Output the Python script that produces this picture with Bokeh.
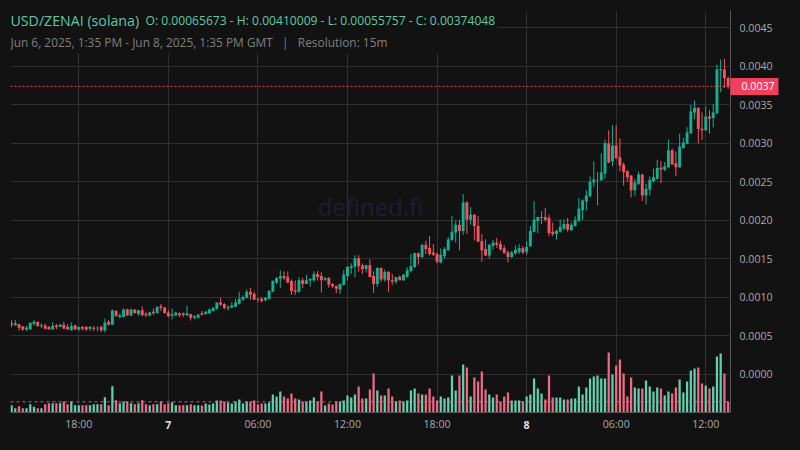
from bokeh.embed import file_html
from bokeh.models import (BoxAnnotation, FixedTicker, Label, LinearAxis, NumeralTickFormatter,
                          Range1d, Span)
from bokeh.plotting import figure
from bokeh.resources import INLINE

# ---- data (prices in units of 0.00001, 15 minute candles) ----
PRICE_UNIT = 1e-5
open_ = [66,63.5,65,62,58,58,65,68,62,63,
 61,58,63,61,64,61,57,63.5,58,61,
 61,59,60,59.5,61,56.5,68,64,82,74,
 74,84,76,84,78,83,78,76,81,79,
 88,86.5,80,76,76,79,79,76,78,73,73,
 79,78,79,82,85,93,91,85.5,86,87.5,
 91.5,97,99,107,104,98,98,96,98,107,
 119,124,127.5,126,121,109,107,122,117,121.5,
 122,130,127.5,122.5,125,117,114.5,110,116,127.5,
 138,139.5,150.5,141,136.5,141.5,127.5,117,138,123,
 133,122,120,126.5,122,126.5,134,139,157,152,
 168,164,158,156,145,153.5,161,174,184,194,
 186,223,200.5,207,192.5,173,162.5,154,166.5,171,
 169,163.5,158,152,157,159,163.5,159,166,185,
 199,203,204,203,185,182,185,189,195,187,
 192.5,199,213,224,231,249,252,252,260.5,300,
 276.5,297,282,272.5,263.5,258,239,247.5,259.5,232,
 240,251,254,268.5,265.5,269,291,274,269,294,
 299.5,313,340,346,319,317,335,333,339,395,396,385]
high = [70,70,65,62,62.5,67,70,68,66,65.5,
 62.5,67,65,65,68,65,67,64,62,62.5,
 62.5,62.5,62.5,62,63,72,70,84,83,79,
 85,85,85,84,83,88,81,81,85,88,
 91,87,83,85,81,80,80,89,78,76.5,78,
 82,82,85,87,93,99,92,89,93.5,97.5,
 107,102.5,110,112,107,99,100,100,109,122,
 126,135,133.5,133.5,123,122,126,125,129,124.5,
 133.5,134,132.5,126,126,118,115,117.5,135,140.5,
 144,154.5,154.5,144,142,149,133.5,138.5,138.5,136,
 133.5,130,126,128,130,139,156,158,158,168.5,
 173.5,179.5,169,158,163.5,165,178,205.5,199.5,200.5,
 234,225,217,208,205.5,182,175,169,174,177,
 173.5,167.5,160.5,160,167.5,169,166.5,173,192.5,225,
 204.5,211.5,216,207,197,188,201,201,203,197,
 205,229,227,239,257,276.5,262.5,287,305,317,
 323.5,323.5,306.5,275,265,258.5,254,263.5,260,247.5,
 257,267,278.5,277,275.5,305,293,289.5,312.5,307,
 321,350,355.5,347,340,348,343,351.5,402.5,409,410,387]
low = [61,63,56.5,56,56,58,63,62,60,58,
 58,58,58,61,59,58,56.5,58,56,57,
 56,56,56,55.5,55,54,63,64,75,72,
 74,76,75,79,76,75.5,74,75,77,79,
 82,79,74,71,75,74,74,76,69.5,71,72,
 76,77,78,81,83,89,84,82.5,86,87,
 90.5,95,98,96.5,96,93,93,94.5,97,107,
 117,112,122,118,103,103,106,112,117,114,
 120,121.5,106,121,112,112,105,104,115,121.5,
 130,126,133,130,132,126,105.5,113,120,120,
 107,116,117,122,121,125,132,138,142,151,
 156,154,153.5,144,144,150,160,173.5,171,161,
 181,182,194,174,172,146,153.5,150,162,164,
 160.5,157,145,151,155,156,156,155,165,184,
 183,195,198.5,179,179,175,184,187,185,186,
 192,198,200.5,212.5,230,243,219,251,254,274,
 270,280,263.5,245,250,229.5,232,246,225,220.5,
 232,249,253,248,264,268,272,257,268,293,
 299,312,331.5,300,304,316,312.5,321,338,366.5,372,371]
close = [64,66,60,58,60,66.5,68,62,63.5,59,
 58,62.5,61,64,59,58,62.5,58,61,59,
 58,61,59,60,56.5,67,64,82.5,75,76.5,
 84,76,84,79,83,76.5,76.5,80,79,87,
 86,79,75,78,80,76.5,77,79,73,75,77,
 77,81,84,86,93,90,86,87,89,93,
 98,100,107,103,96.5,97,95,99,108,121,
 125,127.5,125,119,108,107,122,117,122,123.5,
 130,126,122,125,116,114,111,117,129,139,
 140,150.5,140,136.5,141.5,126,117,138,123,132.5,
 121.5,120,126,122,129,135,140.5,157,152,168,
 162.5,156,155,146,155,162.5,175,185,194,186,
 223,200.5,207,192,172,161,154,168,171,168,
 162,157,152,158,161.5,164,158,165.5,186,200.5,
 204,204,200.5,183.5,182,186,191,195,187.5,194,
 199.5,215,225.5,232,250,253,252.5,262,300,275,
 297,280.5,271,262.5,256,239,249,259.5,232,241,
 252.5,256,268,266,270,291,272.5,269,296,301,
 314,341.5,346,318.5,317,335,332,340,396,396.5,385,374]
volume = [7.3,4.3,6.3,4.3,4.3,8.3,5.7,4.3,4.3,8.3,
 9.3,9.3,9.3,9.3,11,8.3,11,7.3,7.3,7.3,
 7.3,7.3,8.3,8.3,8.3,15.3,7.3,26.3,12.3,9.3,
 11,11,9.3,8.3,9.3,12.3,8.3,7.3,8.3,8.3,
 11,8.3,9.3,10.3,7.3,7.3,7.3,7.3,8.3,7.3,7.3,
 7,9,8,9,12,12,11,10,9,11,
 13,9,11,11,12,8,9,9,10,18,
 16,21,16,14,19,14,13,11,11,12,
 15,11,21,7,9,8,11,11,12,17,
 15,18,26,14,14,23,39,22,17,17,
 24,16,11,12,11,12,22,24,19,18,
 18,24,16,12,16,14,15,37,22,37,
 48,45,16,35,31,41,23,18,15,18,
 11,16,20,12,12,12,11,16,18,34,
 24,19,13,37,15,15,15,13,13,14,
 14,26,18,25,34,36,37,34,34,60,
 38,47,53,39,16,35,25,24,24,32,
 26,21,25,24,17,21,19,25,33,20,
 31,42,44,45,29,27,24,26,56,59,39,11]
volume_side = ("GGRRGGGRGR" "RGRGRRGGGR" "RGGGRGRGRG" "GRGRGRRGRG" "RRRGGRRGRGG"
               "RGGGGRRGGG" "GGGRRRRGGG" "GGRRRRGRGG" "GRRGRRRGGG" "GGRRGRRGRG"
               "RRGRGGGGRG" "RRRRGGGGGR" "GRGRRRRGGR" "RRRGGGRGGG" "GGRRRGGGRG"
               "GGGGGGGGGR" "GRRRRRGGRG" "GGGRGGRRGG" "GGGRRGRGGGRR")
volume_ma = 10.7
last_price = 0.00374048
price_ticks = [0.0000, 0.0005, 0.0010, 0.0015, 0.0020, 0.0025, 0.0030, 0.0035, 0.0040, 0.0045]
time_ticks = [18, 42, 66, 90, 114, 138, 162, 186]
time_labels = ["18:00", "", "06:00", "12:00", "18:00", "", "06:00", "12:00"]
day_ticks = [42, 138]
day_labels = ["7", "8"]
title_text = "USD/ZENAI (solana)"
ohlc_text = "O: 0.00065673 - H: 0.00410009 - L: 0.00055757 - C: 0.00374048"
range_text = "Jun 6, 2025, 1:35 PM - Jun 8, 2025, 1:35 PM GMT\u00a0\u00a0\u00a0|\u00a0\u00a0\u00a0Resolution: 15m"
for series in (open_, high, low, close, volume, volume_side):
    assert len(series) == 193, len(series)

# ---- layout: window px -> data helpers ----
BG, GRID, AXIS = "#121212", "#303030", "#555555"
UP, DOWN, VUP, VDOWN = "#14b093", "#f7525f", "#5fd3b1", "#ee6a85"
TAG = "#f23f5d"
WIDTH, HEIGHT = 800, 450
F_L, F_R, F_T, F_B = 10, 730, 10, 412
X0, DX = 11.1, 3.732
Y0, DY = 373.5, 76900.0


def dx(px):
    return (px - X0) / DX


def dy(py):
    return (Y0 - py) / DY


p = figure(width=WIDTH, height=HEIGHT, output_backend="svg", toolbar_location=None,
           x_range=Range1d(dx(F_L), dx(F_R)), y_range=Range1d(dy(F_B), dy(F_T)),
           y_axis_location="right", background_fill_color=BG, border_fill_color=BG,
           outline_line_color=None, min_border_left=F_L, min_border_top=F_T,
           min_border_right=WIDTH - F_R, min_border_bottom=HEIGHT - F_B)
p.extra_y_ranges = {"vol": Range1d(0, F_B - F_T)}

xs = list(range(len(close)))
o = [v * PRICE_UNIT for v in open_]
h = [v * PRICE_UNIT for v in high]
l = [v * PRICE_UNIT for v in low]
c = [v * PRICE_UNIT for v in close]
colors = [UP if cc >= oo else DOWN for oo, cc in zip(o, c)]
vcolors = [VUP if s == "G" else VDOWN for s in volume_side]

wm = Label(x=dx(370), y=dy(206), text="defined.fi", text_font="Open Sans", text_font_size="24px",
           text_color="#1e1d33", text_align="center", text_baseline="middle", level="underlay")
p.add_layout(wm)

p.vbar(x=xs, top=volume, bottom=0, width=0.6, fill_color=vcolors, line_color=None, y_range_name="vol")
p.segment(x0=xs, x1=xs, y0=l, y1=h, color=colors, line_width=1)
p.vbar(x=xs, top=o, bottom=c, width=0.78, fill_color=colors, line_color=None)

p.add_layout(Span(location=volume_ma, dimension="width", line_color=VDOWN, line_dash=[3, 3],
                  line_width=1, line_alpha=0.85, y_range_name="vol"))
p.add_layout(Span(location=last_price, dimension="width", line_color=TAG, line_dash=[2, 2],
                  line_width=1))

ax = p.yaxis[0]
ax.ticker = FixedTicker(ticks=price_ticks)
ax.formatter = NumeralTickFormatter(format="0.0000")
ax.major_tick_line_color = None
ax.major_tick_out = 0
ax.major_tick_in = 0
ax.minor_tick_line_color = None
ax.axis_line_color = AXIS
ax.major_label_text_color = "#aaaaaa"
ax.major_label_text_font = "Open Sans"
ax.major_label_text_font_size = "10.6px"
ax.major_label_standoff = 9

bx = p.xaxis[0]
bx.ticker = FixedTicker(ticks=time_ticks)
bx.major_label_overrides = dict(zip(time_ticks, time_labels))
bx.major_tick_line_color = None
bx.major_tick_out = 0
bx.major_tick_in = 0
bx.minor_tick_line_color = None
bx.axis_line_color = AXIS
bx.major_label_text_color = "#aaaaaa"
bx.major_label_text_font = "Open Sans"
bx.major_label_text_font_size = "10.6px"
bx.major_label_standoff = 4

p.xgrid.ticker = FixedTicker(ticks=time_ticks)
p.ygrid.ticker = FixedTicker(ticks=price_ticks)
p.xgrid.grid_line_color = GRID
p.ygrid.grid_line_color = GRID

# bold day labels: a second bottom axis, pulled back onto the row of the first
day_axis = LinearAxis(ticker=FixedTicker(ticks=day_ticks),
                      major_label_overrides=dict(zip(day_ticks, day_labels)),
                      axis_line_color=None, major_tick_line_color=None,
                      major_tick_out=0, major_tick_in=0, minor_tick_line_color=None,
                      major_label_text_color="#e0e0e0", major_label_text_font="Open Sans",
                      major_label_text_font_style="bold", major_label_text_font_size="10.6px",
                      major_label_standoff=-13)
p.add_layout(day_axis, "below")

# last-price tag: a thick tick on a second right axis, reaching back to the frame
tag_axis = LinearAxis(ticker=FixedTicker(ticks=[last_price]),
                      formatter=NumeralTickFormatter(format="0.0000"),
                      axis_line_color=None, major_tick_in=45,
                      major_tick_out=3, major_tick_line_color=TAG, major_tick_line_width=17,
                      minor_tick_line_color=None, major_label_text_color="#ffffff",
                      major_label_text_font="Open Sans", major_label_text_font_size="10.6px",
                      major_label_standoff=-37)
p.add_layout(tag_axis, "right")

p.add_layout(BoxAnnotation(left=dx(F_L), right=dx(497), top=dy(F_T), bottom=dy(53),
                           fill_color=BG, fill_alpha=1, line_color=None))
p.add_layout(Label(x=dx(10), y=dy(20), text=title_text, text_font="Open Sans", text_font_size="14.2px",
                   text_color="#5fc9a8", text_baseline="middle"))
p.add_layout(Label(x=dx(145), y=dy(20), text=ohlc_text, text_font="Open Sans", text_font_size="12.1px",
                   text_color="#5fc9a8", text_baseline="middle"))
p.add_layout(Label(x=dx(10), y=dy(41), text=range_text, text_font="Open Sans", text_font_size="11.9px",
                   text_color="#808080", text_baseline="middle"))

html = file_html(p, INLINE)
html = html.replace("</head>", "<style>html,body{background:#121212}</style></head>", 1)
open("out.html", "w").write(html)
